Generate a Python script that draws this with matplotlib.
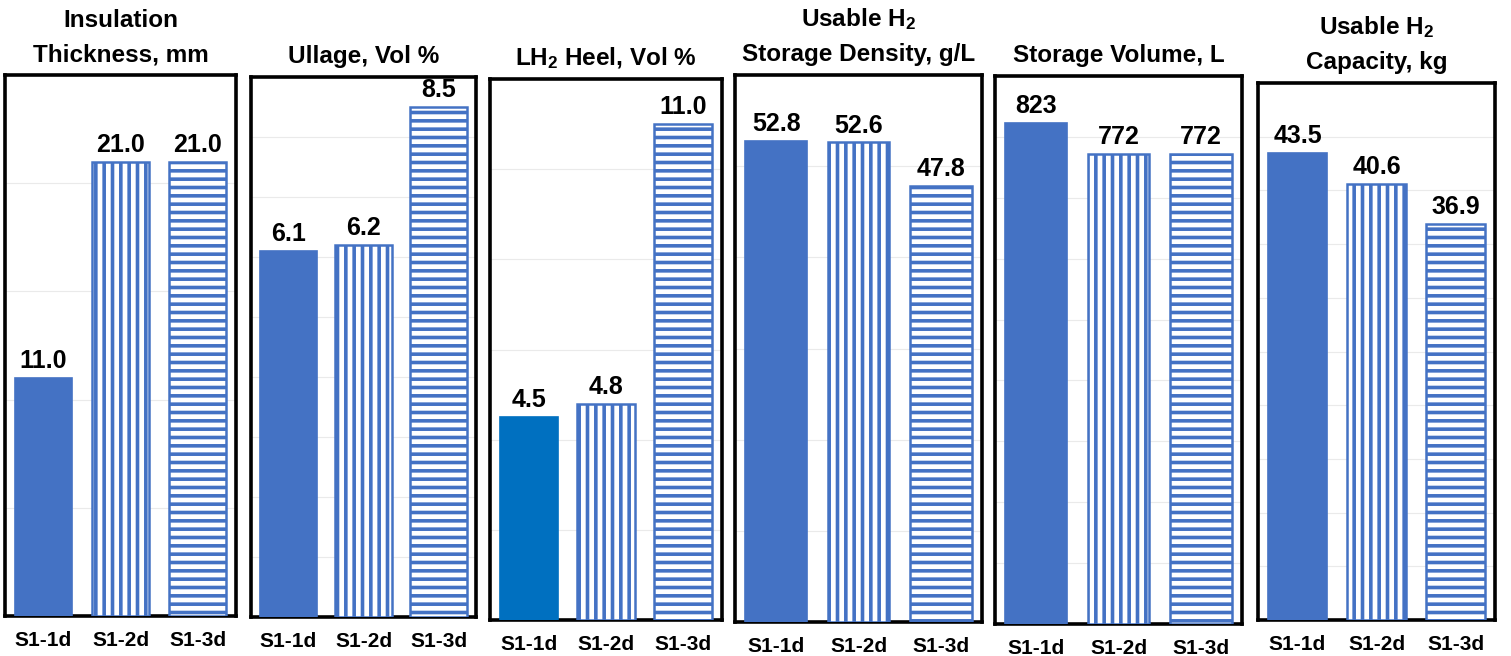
import numpy as np
import matplotlib.pyplot as plt
from matplotlib.ticker import MultipleLocator

plt.rcParams['font.family'] = ['Liberation Sans', 'DejaVu Sans']
plt.rcParams['font.weight'] = 'bold'
plt.rcParams['mathtext.default'] = 'regular'
plt.rcParams['hatch.linewidth'] = 2.6

cases = ['S1-1d', 'S1-2d', 'S1-3d']

titles = ['Insulation\nThickness, mm',
          'Ullage, Vol %',
          'LH$_2$ Heel, Vol %',
          'Usable H$_2$\nStorage Density, g/L',
          'Storage Volume, L',
          'Usable H$_2$\nCapacity, kg']

insulation_mm = [11.0, 21.0, 21.0]
ullage_pct = [6.1, 6.2, 8.5]
heel_pct = [4.5, 4.8, 11.0]
density_gL = [52.8, 52.6, 47.8]
volume_L = [823, 772, 772]
capacity_kg = [43.5, 40.6, 36.9]

series = [insulation_mm, ullage_pct, heel_pct, density_gL, volume_L, capacity_kg]
label_fmt = ['{:.1f}', '{:.1f}', '{:.1f}', '{:.1f}', '{:.0f}', '{:.1f}']

# axis ranges and gridline steps for each panel
y_max = [25, 9, 12, 60, 900, 50]
grid_step = [5, 1, 2, 10, 100, 5]

# panel frames in pixels: left, top, right, bottom
W, H = 1511, 656
frames = [(5, 75, 236, 616),
          (251, 77, 476, 617),
          (490, 79, 722, 620),
          (735, 75, 982, 622),
          (995, 76, 1242, 624),
          (1258, 83, 1495, 620)]

blue = '#4472C4'
first_colors = [blue, blue, '#0070C0', blue, blue, blue]
hatches = [None, '||', '--']

fig = plt.figure(figsize=(W / 100, H / 100), dpi=100)

for i in range(len(series)):
    l, t, r, b = frames[i]
    ax = fig.add_axes([l / W, 1 - b / H, (r - l) / W, (b - t) / H])
    x = np.arange(len(cases))
    for j in range(len(cases)):
        if hatches[j] is None:
            ax.bar(x[j], series[i][j], width=0.75, color=first_colors[i],
                   edgecolor=first_colors[i], linewidth=1.2, zorder=3)
        else:
            ax.bar(x[j], series[i][j], width=0.75, facecolor='white',
                   edgecolor=blue, hatch=hatches[j], linewidth=1.8, zorder=3)
        ax.annotate(label_fmt[i].format(series[i][j]), (x[j], series[i][j]),
                    xytext=(0, 3.5), textcoords='offset points',
                    ha='center', va='bottom', fontsize=18, fontweight='bold')
    ax.set_xlim(-0.5, 2.5)
    ax.set_ylim(0, y_max[i])
    ax.yaxis.set_major_locator(MultipleLocator(grid_step[i]))
    ax.grid(axis='y', color='#EAEAEA', linewidth=0.8, zorder=0)
    ax.set_yticklabels([])
    ax.tick_params(axis='y', length=0)
    ax.set_xticks(x)
    ax.set_xticklabels(cases, fontsize=15, fontweight='bold')
    ax.tick_params(axis='x', length=0, pad=11)
    for spine in ax.spines.values():
        spine.set_linewidth(2.6)
        spine.set_color('black')
    ax.set_title(titles[i], fontsize=17.5, fontweight='bold', pad=10,
                 linespacing=1.6)

fig.savefig('out.png', dpi=100)
